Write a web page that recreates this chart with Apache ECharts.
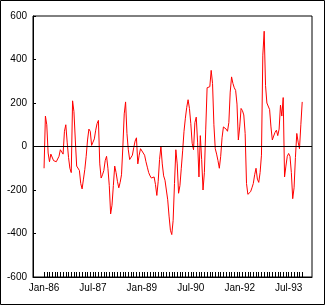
<!DOCTYPE html>
<html><head><meta charset="utf-8">
<script src="https://cdn.jsdelivr.net/npm/echarts@6/dist/echarts.min.js"></script>
<style>html,body{margin:0;padding:0;background:#fff}#c{width:325px;height:305px}</style>
</head><body><div id="c"></div>
<script>
// semi-monthly readings starting Jan-86 (index i -> month i/2)
const values = [-100,140,100,-30,-70,-35,-30,-65,-70,-70,-70,-45,-15,-25,-35,70,100,20,-50,-100,
-120,210,160,30,-90,-90,-110,-170,-195,-150,-105,-45,30,80,70,5,20,35,75,105,
120,-80,-145,-130,-110,-65,-45,-100,-180,-310,-270,-180,-90,-120,-160,-190,-165,-130,0,150,
205,60,-15,-60,-55,-40,-5,25,40,-80,-40,-10,-15,-30,-40,-70,-95,-120,-135,-145,
-145,-140,-175,-225,-160,-60,0,-80,-135,-155,-200,-245,-320,-385,-405,-340,-170,-15,-80,-215,
-180,-100,-20,70,130,180,215,175,105,15,-15,110,135,20,-140,50,-60,-200,-120,80,
270,270,275,350,290,100,-10,-35,-65,-100,-45,40,90,90,80,70,110,250,320,290,
270,258,195,30,90,175,165,145,60,-170,-220,-215,-208,-190,-170,-130,-100,-150,-165,-120,
-40,420,530,280,200,205,170,90,30,48,65,75,50,80,190,140,225,-140,-90,-45,
-32,-45,-120,-240,-190,-50,60,20,-10,100,205];
const tickLabels = ['Jan-86','Jul-87','Jan-89','Jul-90','Jan-92','Jul-93'];
const tickMonths = [0,18,36,54,72,90];
const monthTicks = Array.from({length:96},(_, m)=>m);

const chart = echarts.init(document.getElementById('c'), null, {renderer:'canvas'});
const font = 'Liberation Sans, Arial, sans-serif';
chart.setOption({
  animation:false,
  backgroundColor:'#fff',
  graphic:[{type:'rect',shape:{x:0.5,y:0.5,width:324,height:304},style:{fill:null,stroke:'#000',lineWidth:1},silent:true}],
  grid:{left:33,right:13,top:16,bottom:28,show:true,borderColor:'#000',borderWidth:1,backgroundColor:'transparent'},
  xAxis:{type:'value',min:-4.07,max:98.6,
    axisLine:{show:true,onZero:false,lineStyle:{color:'#000',width:1}},
    splitLine:{show:false},
    axisTick:{show:true,inside:true,length:5,customValues:monthTicks,lineStyle:{color:'#000'}},
    axisLabel:{customValues:tickMonths,formatter:v=>tickLabels[tickMonths.indexOf(Math.round(v))]||'',
      color:'#000',fontFamily:font,fontSize:10,margin:6}
  },
  yAxis:{type:'value',min:-600,max:600,interval:200,
    axisLine:{show:true,onZero:false,lineStyle:{color:'#000',width:1}},
    splitLine:{show:false},
    axisTick:{show:true,inside:true,length:3,lineStyle:{color:'#000'}},
    axisLabel:{color:'#000',fontFamily:font,fontSize:10,margin:6}
  },
  series:[{type:'line',data:values.map((v,i)=>[i/2,v]),symbol:'none',
    lineStyle:{color:'#ff0000',width:1},
    markLine:{silent:true,symbol:'none',label:{show:false},lineStyle:{color:'#000',type:'solid',width:1},data:[{yAxis:0}]}
  }]
});
</script></body></html>
